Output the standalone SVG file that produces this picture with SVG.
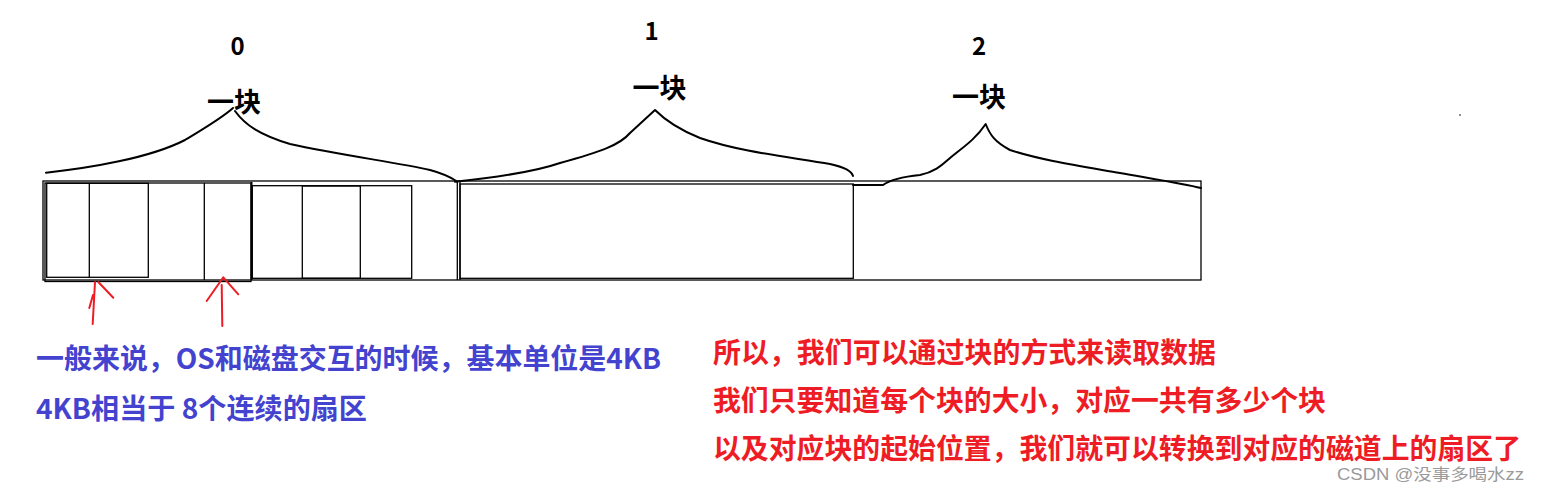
<svg xmlns="http://www.w3.org/2000/svg" width="1541" height="493" viewBox="0 0 1541 493">
<style>
.box{fill:none;stroke:#000;stroke-width:1.3}
.brace{fill:none;stroke:#000;stroke-width:2;stroke-linejoin:round;stroke-linecap:round}
.arrow{fill:none;stroke:#ee1c24;stroke-width:2;stroke-linecap:round;stroke-linejoin:round}
.lbl{font-family:"Noto Sans CJK SC","Noto Sans",sans-serif;font-weight:bold;fill:#000;text-anchor:middle}
.blue{font-family:"Noto Sans CJK SC","Noto Sans",sans-serif;font-weight:bold;font-size:28px;fill:#4343cf}
.red{font-family:"Noto Sans CJK SC","Noto Sans",sans-serif;font-weight:bold;font-size:28px;fill:#ee1c24}
.wm{font-family:"Liberation Sans","Noto Sans CJK SC",sans-serif;font-size:16px;fill:#9a9a9a}
</style>
<rect width="1541" height="493" fill="#fff"/>
<g id="track">
<rect class="box" x="43" y="181" width="1158" height="99"/>
<rect class="box" x="45" y="183" width="206" height="98.5"/>
<rect class="box" x="46.7" y="183.3" width="101.6" height="94"/>
<line class="box" x1="89.3" y1="183.3" x2="89.3" y2="277.3"/>
<line class="box" x1="204.3" y1="183" x2="204.3" y2="280"/>
<line x1="251.5" y1="182" x2="251.5" y2="280" stroke="#000" stroke-width="2"/>
<rect class="box" x="252.3" y="185.7" width="159.4" height="92.6"/>
<rect class="box" x="302.3" y="186" width="58" height="92.3"/>
<line class="box" x1="457.3" y1="181" x2="457.3" y2="280"/>
<line class="box" x1="460" y1="181" x2="460" y2="280"/>
<rect class="box" x="460" y="184" width="393.3" height="94.3"/>
</g>
<g id="block0">
<path class="brace" d="M46,172.7 C90,168 150,158 185,140 C205,128 222,118 233,108 M235,111 C245,125 260,135 290,144 C340,155 400,163 430,170 C445,174 452,178 457,181.5"/>
<text class="lbl" x="237.5" y="55" font-size="24">0</text>
<text class="lbl" x="234" y="112" font-size="27">一块</text>
</g>
<g id="block1">
<path class="brace" d="M455,181.7 C500,177 540,170 560,163 C600,152 620,145 630,133 L655,110 C665,120 680,130 700,138 C740,152 790,157 830,164 C848,168 852,172 853,176"/>
<text class="lbl" x="651.7" y="40" font-size="24">1</text>
<text class="lbl" x="659.5" y="98" font-size="27">一块</text>
</g>
<g id="block2">
<path class="brace" d="M853,185 L883,185 C890,180 900,177 920,175 C935,172 942,165 950,158 C962,148 975,140 985.7,124 C990,135 995,142 1010,150 C1040,160 1080,166 1120,173 C1160,180 1185,184 1201,188"/>
<text class="lbl" x="979" y="55" font-size="24">2</text>
<text class="lbl" x="979" y="107" font-size="27">一块</text>
</g>
<g id="connectors">
<path class="arrow" d="M92.7,324 L95,282 M89.3,308 L93,295 M98.3,282 L113.3,297.7"/>
<path class="arrow" d="M222.3,326 L221.7,285 M206.7,301 L223.3,277.3 L238.3,294.3"/>
</g>
<g id="note-blue">
<text class="blue" x="36" y="369" textLength="625" lengthAdjust="spacingAndGlyphs">一般来说，OS和磁盘交互的时候，基本单位是4KB</text>
<text class="blue" x="36" y="419" textLength="331" lengthAdjust="spacingAndGlyphs">4KB相当于 8个连续的扇区</text>
</g>
<g id="note-red">
<text class="red" x="713" y="363" textLength="503" lengthAdjust="spacingAndGlyphs">所以，我们可以通过块的方式来读取数据</text>
<text class="red" x="713" y="411" textLength="613" lengthAdjust="spacingAndGlyphs">我们只要知道每个块的大小，对应一共有多少个块</text>
<text class="red" x="713" y="459" textLength="808" lengthAdjust="spacingAndGlyphs">以及对应块的起始位置，我们就可以转换到对应的磁道上的扇区了</text>
</g>
<circle cx="1460" cy="115" r="0.8" fill="#000"/>
<text class="wm" x="1337" y="480" textLength="187" lengthAdjust="spacingAndGlyphs">CSDN @没事多喝水zz</text>
</svg>
